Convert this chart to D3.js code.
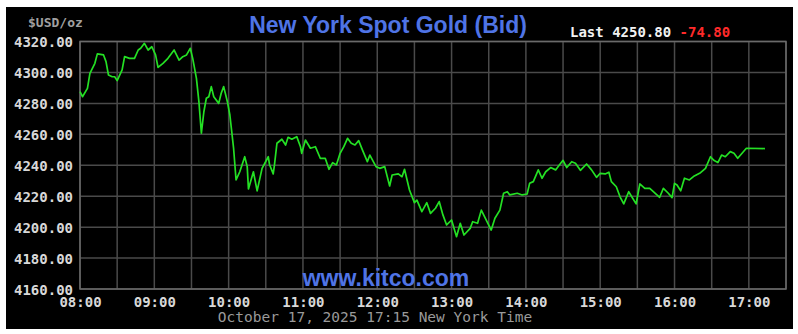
<!DOCTYPE html>
<html>
<head>
<meta charset="utf-8">
<script src="https://cdn.jsdelivr.net/npm/d3@7"></script>
<style>
  body { margin: 0; background: #fff; }
</style>
</head>
<body>
<div id="my_dataviz"></div>
<script>
// spot gold, time of day (New York) and bid price
var times = ["08:00","08:02","08:06","08:08","08:12","08:14","08:19","08:21","08:23","08:26","08:28","08:30",
  "08:34","08:36","08:40","08:44","08:47","08:49","08:52","08:55","08:58","09:01","09:03","09:07","09:11",
  "09:16","09:20","09:23","09:26","09:29","09:31","09:34","09:36","09:38","09:40","09:42","09:44","09:46",
  "09:48","09:52","09:54","09:56","09:59","10:01","10:04","10:06","10:09","10:13","10:15","10:16","10:20",
  "10:23","10:27","10:32","10:33","10:36","10:37","10:39","10:43","10:46","10:48","10:51","10:55","10:58",
  "10:59","11:02","11:06","11:10","11:14","11:18","11:21","11:24","11:27","11:30","11:33","11:36","11:39",
  "11:42","11:45","11:48","11:52","11:54","11:59","12:02","12:06","12:10","12:12","12:17","12:20","12:22",
  "12:26","12:30","12:32","12:36","12:40","12:43","12:47","12:50","12:53","12:56","13:00","13:04","13:07",
  "13:10","13:15","13:17","13:21","13:24","13:28","13:32","13:35","13:39","13:42","13:45","13:47","13:53",
  "13:57","14:01","14:03","14:06","14:10","14:13","14:16","14:20","14:24","14:27","14:30","14:33","14:37",
  "14:40","14:44","14:49","14:53","14:57","15:00","15:04","15:07","15:09","15:13","15:16","15:19","15:23",
  "15:29","15:32","15:36","15:40","15:48","15:51","15:55","15:58","16:00","16:02","16:05","16:08","16:12",
  "16:16","16:21","16:25","16:29","16:32","16:35","16:38","16:41","16:45","16:48","16:51","16:54","16:58",
  "17:13"];

var prices = [4287.6,4284.3,4289.7,4299.4,4305.9,4312.0,4311.3,4307.0,4298.3,4297.2,4297.2,4294.7,
  4301.6,4310.2,4309.1,4309.1,4314.5,4315.6,4318.8,4314.5,4316.6,4311.3,4303.3,4305.9,4309.1,
  4314.5,4308.0,4310.2,4311.3,4315.6,4309.1,4296.2,4281.1,4260.7,4274.6,4283.3,4284.3,4290.8,
  4284.3,4280.0,4286.5,4290.8,4281.1,4272.5,4251.0,4230.5,4235.8,4245.5,4239.1,4224.7,4235.8,
  4223.4,4238.0,4245.5,4240.5,4234.4,4240.2,4254.2,4256.8,4253.1,4258.1,4256.8,4258.5,4252.0,
  4247.7,4256.3,4251.0,4252.0,4244.5,4244.5,4237.4,4241.7,4240.2,4247.7,4252.0,4257.4,4254.2,
  4253.1,4255.9,4249.9,4242.3,4246.6,4239.1,4238.0,4239.1,4226.6,4233.7,4234.4,4232.6,4237.4,
  4224.0,4215.8,4217.5,4210.0,4215.8,4208.9,4212.2,4216.5,4207.9,4201.4,4204.6,4193.8,4202.5,
  4194.9,4199.2,4203.5,4202.5,4211.0,4204.6,4198.1,4205.7,4211.0,4221.9,4222.9,4220.8,4221.9,
  4220.8,4221.4,4228.3,4229.4,4237.0,4231.6,4235.8,4238.5,4237.0,4240.2,4243.2,4238.5,4242.3,
  4241.3,4236.7,4240.8,4237.0,4232.2,4234.8,4234.4,4235.5,4229.4,4226.1,4219.6,4215.0,4222.9,
  4215.0,4227.9,4225.1,4225.1,4219.3,4225.1,4221.9,4219.1,4228.3,4227.2,4223.5,4231.6,4230.5,
  4233.1,4235.2,4238.0,4245.5,4243.0,4241.7,4246.6,4245.5,4248.8,4247.7,4244.5,4247.3,4251.0,
  4250.8];

var yTicks = [4160, 4180, 4200, 4220, 4240, 4260, 4280, 4300, 4320];
var xTicks = ["08:00","09:00","10:00","11:00","12:00","13:00","14:00","15:00","16:00","17:00"];
var xStart = "08:00";
var xEnd = "17:30";

var lastPrice = 4250.80;
var change = -74.80;

var parseTime = d3.timeParse("%H:%M");

var data = times.map(function(t, i) { return {time: parseTime(t), value: prices[i]}; });

var width = 798, height = 334;
var margin = {top: 41.5, right: 12, bottom: 45, left: 80};

var svg = d3.select("#my_dataviz")
  .append("svg")
    .attr("width", width)
    .attr("height", height);

// black panel
svg.append("rect")
  .attr("x", 6).attr("y", 7)
  .attr("width", 787).attr("height", 322)
  .attr("fill", "#000");

var x = d3.scaleTime()
  .domain([parseTime(xStart), parseTime(xEnd)])
  .range([margin.left, width - margin.right]);

var y = d3.scaleLinear()
  .domain([d3.min(yTicks), d3.max(yTicks)])
  .range([height - margin.bottom, margin.top]);

// grid, every half hour and every 20 dollars
var halfHours = d3.timeMinute.every(30).range(parseTime(xStart), d3.timeMinute.offset(parseTime(xEnd), 1));

svg.append("g")
  .selectAll("line")
  .data(halfHours)
  .enter()
  .append("line")
    .attr("x1", function(d) { return x(d); })
    .attr("x2", function(d) { return x(d); })
    .attr("y1", y(d3.min(yTicks)))
    .attr("y2", y(d3.max(yTicks)))
    .attr("stroke", "#4a4a4a")
    .attr("stroke-width", 1.5);

svg.append("g")
  .selectAll("line")
  .data(yTicks)
  .enter()
  .append("line")
    .attr("x1", x.range()[0])
    .attr("x2", x.range()[1])
    .attr("y1", function(d) { return y(d); })
    .attr("y2", function(d) { return y(d); })
    .attr("stroke", "#4a4a4a")
    .attr("stroke-width", 1.5);

// plot frame
svg.append("rect")
  .attr("x", x.range()[0])
  .attr("y", y.range()[1])
  .attr("width", x.range()[1] - x.range()[0])
  .attr("height", y.range()[0] - y.range()[1])
  .attr("fill", "none")
  .attr("stroke", "#6a6a6a")
  .attr("stroke-width", 1.5);

// axes, only used for their labels
var yAxis = svg.append("g")
  .attr("transform", "translate(" + (margin.left - 7) + ",0)")
  .call(d3.axisLeft(y).tickValues(yTicks).tickSize(0).tickFormat(d3.format(".2f")));

var xAxis = svg.append("g")
  .attr("transform", "translate(0," + (height - margin.bottom + 4) + ")")
  .call(d3.axisBottom(x).tickValues(xTicks.map(parseTime)).tickSize(0).tickFormat(d3.timeFormat("%H:%M")));

svg.selectAll(".domain").remove();
svg.selectAll(".tick text")
  .attr("font-family", "DejaVu Sans Mono, monospace")
  .attr("font-weight", "bold")
  .attr("font-size", "14px")
  .attr("fill", "#d8d8d8");
yAxis.selectAll(".tick text").attr("dy", "0.36em").attr("x", 0);
xAxis.selectAll(".tick text").attr("dy", "0.75em");

// price line
svg.append("path")
  .datum(data)
  .attr("fill", "none")
  .attr("stroke", "#24e024")
  .attr("stroke-width", 1.7)
  .attr("stroke-linejoin", "round")
  .attr("d", d3.line()
    .x(function(d) { return x(d.time); })
    .y(function(d) { return y(d.value); }));

// texts
svg.append("text")
  .attr("x", 28).attr("y", 27)
  .attr("font-family", "DejaVu Sans Mono, monospace")
  .attr("font-weight", "bold")
  .attr("font-size", "13px")
  .attr("fill", "#a0a0a0")
  .text("$USD/oz");

svg.append("text")
  .attr("x", 388).attr("y", 33)
  .attr("text-anchor", "middle")
  .attr("font-family", "Liberation Sans, Arial, sans-serif")
  .attr("font-weight", "bold")
  .attr("font-size", "23px")
  .attr("fill", "#4f74e6")
  .text("New York Spot Gold (Bid)");

var last = svg.append("text")
  .attr("x", 570).attr("y", 37)
  .attr("font-family", "DejaVu Sans Mono, monospace")
  .attr("font-weight", "bold")
  .attr("font-size", "14px");
last.append("tspan").attr("fill", "#f2f2f2").text("Last " + lastPrice.toFixed(2) + " ");
last.append("tspan").attr("fill", "#ff2a2a").text(change.toFixed(2));

svg.append("text")
  .attr("x", 386).attr("y", 286)
  .attr("text-anchor", "middle")
  .attr("font-family", "Liberation Sans, Arial, sans-serif")
  .attr("font-weight", "bold")
  .attr("font-size", "23px")
  .attr("fill", "#4f74e6")
  .text("www.kitco.com");

svg.append("text")
  .attr("x", 375).attr("y", 322)
  .attr("text-anchor", "middle")
  .attr("font-family", "DejaVu Sans Mono, monospace")
  .attr("font-size", "14.5px")
  .attr("fill", "#9a9a9a")
  .text("October 17, 2025 17:15 New York Time");
</script>
</body>
</html>
